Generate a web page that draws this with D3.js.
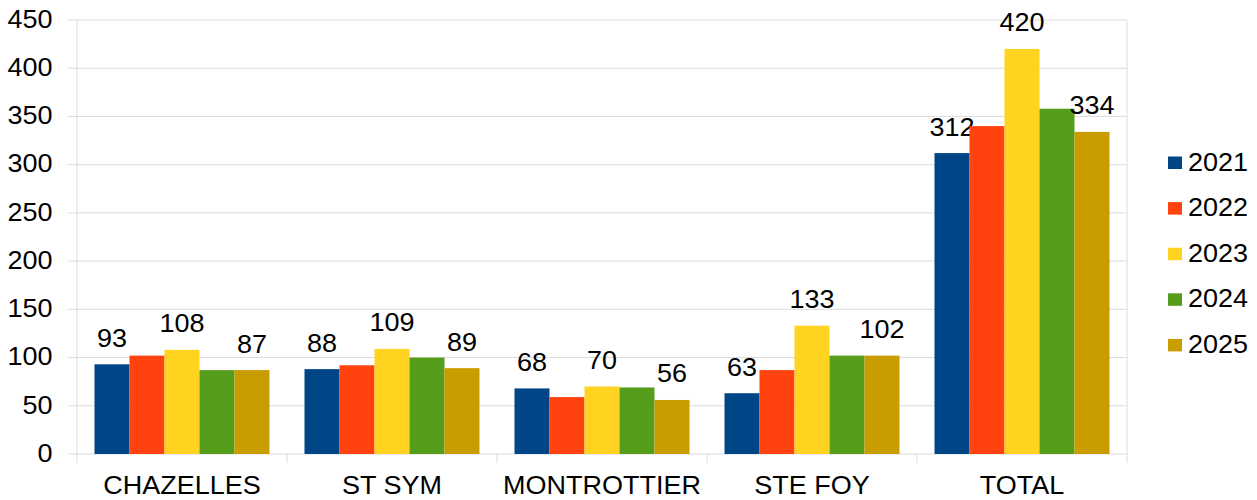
<!DOCTYPE html>
<html>
<head>
<meta charset="utf-8">
<script src="https://cdn.jsdelivr.net/npm/d3@7"></script>
<style>
  body { margin: 0; background: #fff; }
  svg text { font-family: 'Liberation Sans', Arial, sans-serif; fill: #000; }
</style>
</head>
<body>
<div class="container"></div>
<script>
const categories = ['CHAZELLES', 'ST SYM', 'MONTROTTIER', 'STE FOY', 'TOTAL']
const years = ['2021', '2022', '2023', '2024', '2025']
const values2021 = [93, 88, 68, 63, 312]
const values2022 = [102, 92, 59, 87, 340]
const values2023 = [108, 109, 70, 133, 420]
const values2024 = [87, 100, 69, 102, 358]
const values2025 = [87, 89, 56, 102, 334]
const labelledYears = ['2021', '2023', '2025']
const yTicks = [0, 50, 100, 150, 200, 250, 300, 350, 400, 450]
const colors = ['#004586', '#ff420e', '#ffd320', '#579d1c', '#c99c00']

const series = [values2021, values2022, values2023, values2024, values2025]

const w = 1257
const h = 500
const plotLeft = 77
const plotRight = 1127
const plotTop = 20
const plotBottom = 454
const fontSize = 25
const stretch = 1.08 // the picture's text is a bit wider than tall

const svg = d3.select('.container')
  .append('svg')
  .attr('width', w)
  .attr('height', h)

// positioned text, slightly stretched horizontally
const place = (sel, fx, fy) => sel
  .attr('transform', (d, i) => `translate(${fx(d, i)}, ${fy(d, i)}) scale(${stretch}, 1)`)
  .attr('font-size', fontSize)

const xScale = d3.scaleBand()
  .domain(categories)
  .range([plotLeft, plotRight])
  .paddingInner(0.1667)
  .paddingOuter(0.0833)

const xInner = d3.scaleBand()
  .domain(years)
  .range([0, xScale.bandwidth()])

const yScale = d3.scaleLinear()
  .domain([0, 450])
  .range([plotBottom, plotTop])

// grid lines
svg.append('g')
  .selectAll('line')
  .data(yTicks)
  .enter()
  .append('line')
  .attr('x1', plotLeft - 9)
  .attr('x2', plotRight)
  .attr('y1', d => yScale(d))
  .attr('y2', d => yScale(d))
  .attr('stroke', '#dcdcdc')
  .attr('stroke-width', 1)

// y axis labels
svg.append('g')
  .selectAll('text')
  .data(yTicks)
  .enter()
  .append('text')
  .text(d => d)
  .attr('text-anchor', 'end')
  .call(place, () => 52.5, d => yScale(d) + 7.8)

// vertical axis line & right border
svg.append('line')
  .attr('x1', plotLeft).attr('x2', plotLeft)
  .attr('y1', plotTop).attr('y2', plotBottom + 9)
  .attr('stroke', '#dcdcdc')
svg.append('line')
  .attr('x1', plotRight).attr('x2', plotRight)
  .attr('y1', plotTop).attr('y2', plotBottom + 9)
  .attr('stroke', '#dcdcdc')

// category boundary ticks
svg.append('g')
  .selectAll('line')
  .data(categories.slice(1))
  .enter()
  .append('line')
  .attr('x1', d => xScale(d) - xScale.step() * 0.0833)
  .attr('x2', d => xScale(d) - xScale.step() * 0.0833)
  .attr('y1', plotBottom)
  .attr('y2', plotBottom + 9)
  .attr('stroke', '#dcdcdc')

// bars
series.forEach((vals, i) => {
  const g = svg.append('g')
  g.selectAll('rect')
    .data(vals)
    .enter()
    .append('rect')
    .attr('x', (d, j) => xScale(categories[j]) + xInner(years[i]))
    .attr('y', d => yScale(d))
    .attr('width', xInner.bandwidth())
    .attr('height', d => plotBottom - yScale(d))
    .attr('fill', colors[i])

  if (labelledYears.includes(years[i])) {
    g.selectAll('text')
      .data(vals)
      .enter()
      .append('text')
      .text(d => d)
      .attr('text-anchor', 'middle')
      .call(place,
        (d, j) => xScale(categories[j]) + xInner(years[i]) + xInner.bandwidth() / 2,
        d => yScale(d) - 17.5)
  }
})

// category labels
svg.append('g')
  .selectAll('text')
  .data(categories)
  .enter()
  .append('text')
  .text(d => d)
  .attr('text-anchor', 'middle')
  .call(place, d => xScale(d) + xScale.bandwidth() / 2, () => 493.5)

// legend
const legend = svg.append('g')
  .selectAll('g')
  .data(years)
  .enter()
  .append('g')
  .attr('transform', (d, i) => `translate(1168, ${156.5 + i * 45.6})`)

legend.append('rect')
  .attr('width', 14)
  .attr('height', 12.5)
  .attr('fill', (d, i) => colors[i])

legend.append('text')
  .text(d => d)
  .call(place, () => 20, () => 14)
</script>
</body>
</html>
